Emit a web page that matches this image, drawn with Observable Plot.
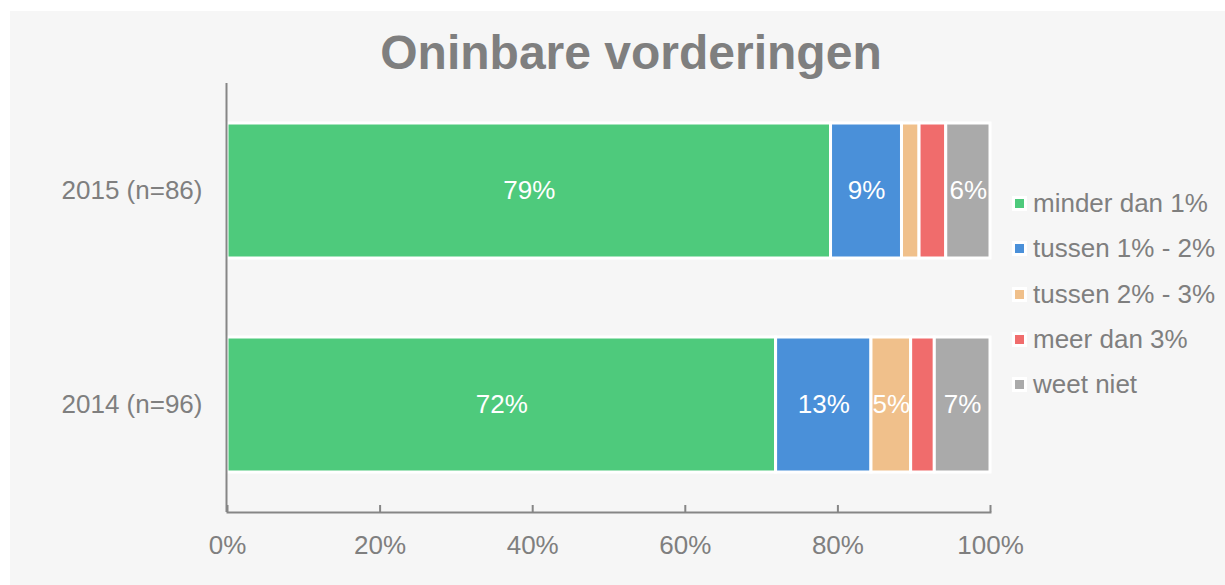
<!DOCTYPE html>
<html>
<head>
<meta charset="utf-8">
<script src="https://cdn.jsdelivr.net/npm/d3@7"></script>
<script src="https://cdn.jsdelivr.net/npm/@observablehq/plot@0.6"></script>
<style>
  html, body { margin: 0; padding: 0; background: #ffffff; }
  #wrap { position: relative; width: 1225px; height: 585px; overflow: hidden; font-family: "Liberation Sans", Arial, sans-serif; }
  #panel { position: absolute; left: 10px; top: 11px; width: 1215px; height: 574px; background: #f6f6f6; }
  #title { position: absolute; left: 0; width: 1262px; top: 29px; text-align: center; font-size: 48px; line-height: 48px; font-weight: bold; color: #7f7f7f; }
  #chart { position: absolute; left: 0; top: 0; }
  #legend { position: absolute; left: 1012px; top: 181px; }
  .item { display: flex; align-items: center; height: 45.3px; font-size: 26px; color: #7f7f7f; white-space: nowrap; }
  .sw { width: 9px; height: 9px; border: 3px solid #ffffff; margin-right: 6px; }
</style>
</head>
<body>
<div id="wrap">
  <div id="panel"></div>
  <div id="chart"></div>
  <div id="title"></div>
  <div id="legend"></div>
</div>
<script>
const title = "Oninbare vorderingen";
const years = ["2015 (n=86)", "2014 (n=96)"];
const categories = ["minder dan 1%", "tussen 1% - 2%", "tussen 2% - 3%", "meer dan 3%", "weet niet"];
const colors = ["#4eca7c", "#4a90d9", "#f0c08b", "#f06c6c", "#aaaaaa"];
const values2015 = [79.1, 9.3, 2.3, 3.5, 5.8];
const values2014 = [71.9, 12.5, 5.2, 3.1, 7.3];
const xTicks = [0, 20, 40, 60, 80, 100];

const seriesByYear = [values2015, values2014];
const data = [];
years.forEach((y, i) => categories.forEach((c, j) => data.push({year: y, category: c, value: seriesByYear[i][j]})));

document.getElementById("title").textContent = title;

const axisColor = "#868686";
const textColor = "#7f7f7f";

const plot = Plot.plot({
  width: 1225,
  height: 585,
  marginLeft: 227,
  marginRight: 235,
  marginTop: 83,
  marginBottom: 73,
  style: { background: "transparent", fontFamily: "Liberation Sans, Arial, sans-serif", fontSize: "26px", color: textColor },
  x: { domain: [0, 100], ticks: xTicks, label: null },
  y: { domain: years, paddingInner: 0.37, paddingOuter: 0.185, label: null },
  color: { domain: categories, range: colors },
  marks: [
    Plot.barX(data, Plot.stackX({x: "value", y: "year", z: "category", fill: "category", stroke: "#ffffff", strokeWidth: 3})),
    Plot.text(data, Plot.stackX({
      x: "value", y: "year", z: "category",
      text: d => d.value >= 4 ? Math.round(d.value) + "%" : "",
      fill: "#ffffff", fontSize: 26
    })),
    Plot.axisX({ticks: xTicks, tickSize: 7, dy: -7, text: null, label: null, stroke: axisColor, strokeWidth: 2}),
    Plot.axisX({ticks: xTicks, tickSize: 0, tickPadding: 23, label: null, tickFormat: d => d + "%", fill: textColor, fontSize: 26}),
    Plot.axisY({tickSize: 0, tickPadding: 25, label: null, fill: textColor, fontSize: 26}),
    Plot.frame({anchor: "bottom", stroke: axisColor, strokeWidth: 2}),
    Plot.ruleX([0], {stroke: axisColor, strokeWidth: 2, dx: -1})
  ]
});
document.getElementById("chart").appendChild(plot);

const legend = document.getElementById("legend");
categories.forEach((c, i) => {
  const item = document.createElement("div");
  item.className = "item";
  const sw = document.createElement("div");
  sw.className = "sw";
  sw.style.background = colors[i];
  const label = document.createElement("span");
  label.textContent = c;
  item.appendChild(sw);
  item.appendChild(label);
  legend.appendChild(item);
});
</script>
</body>
</html>
